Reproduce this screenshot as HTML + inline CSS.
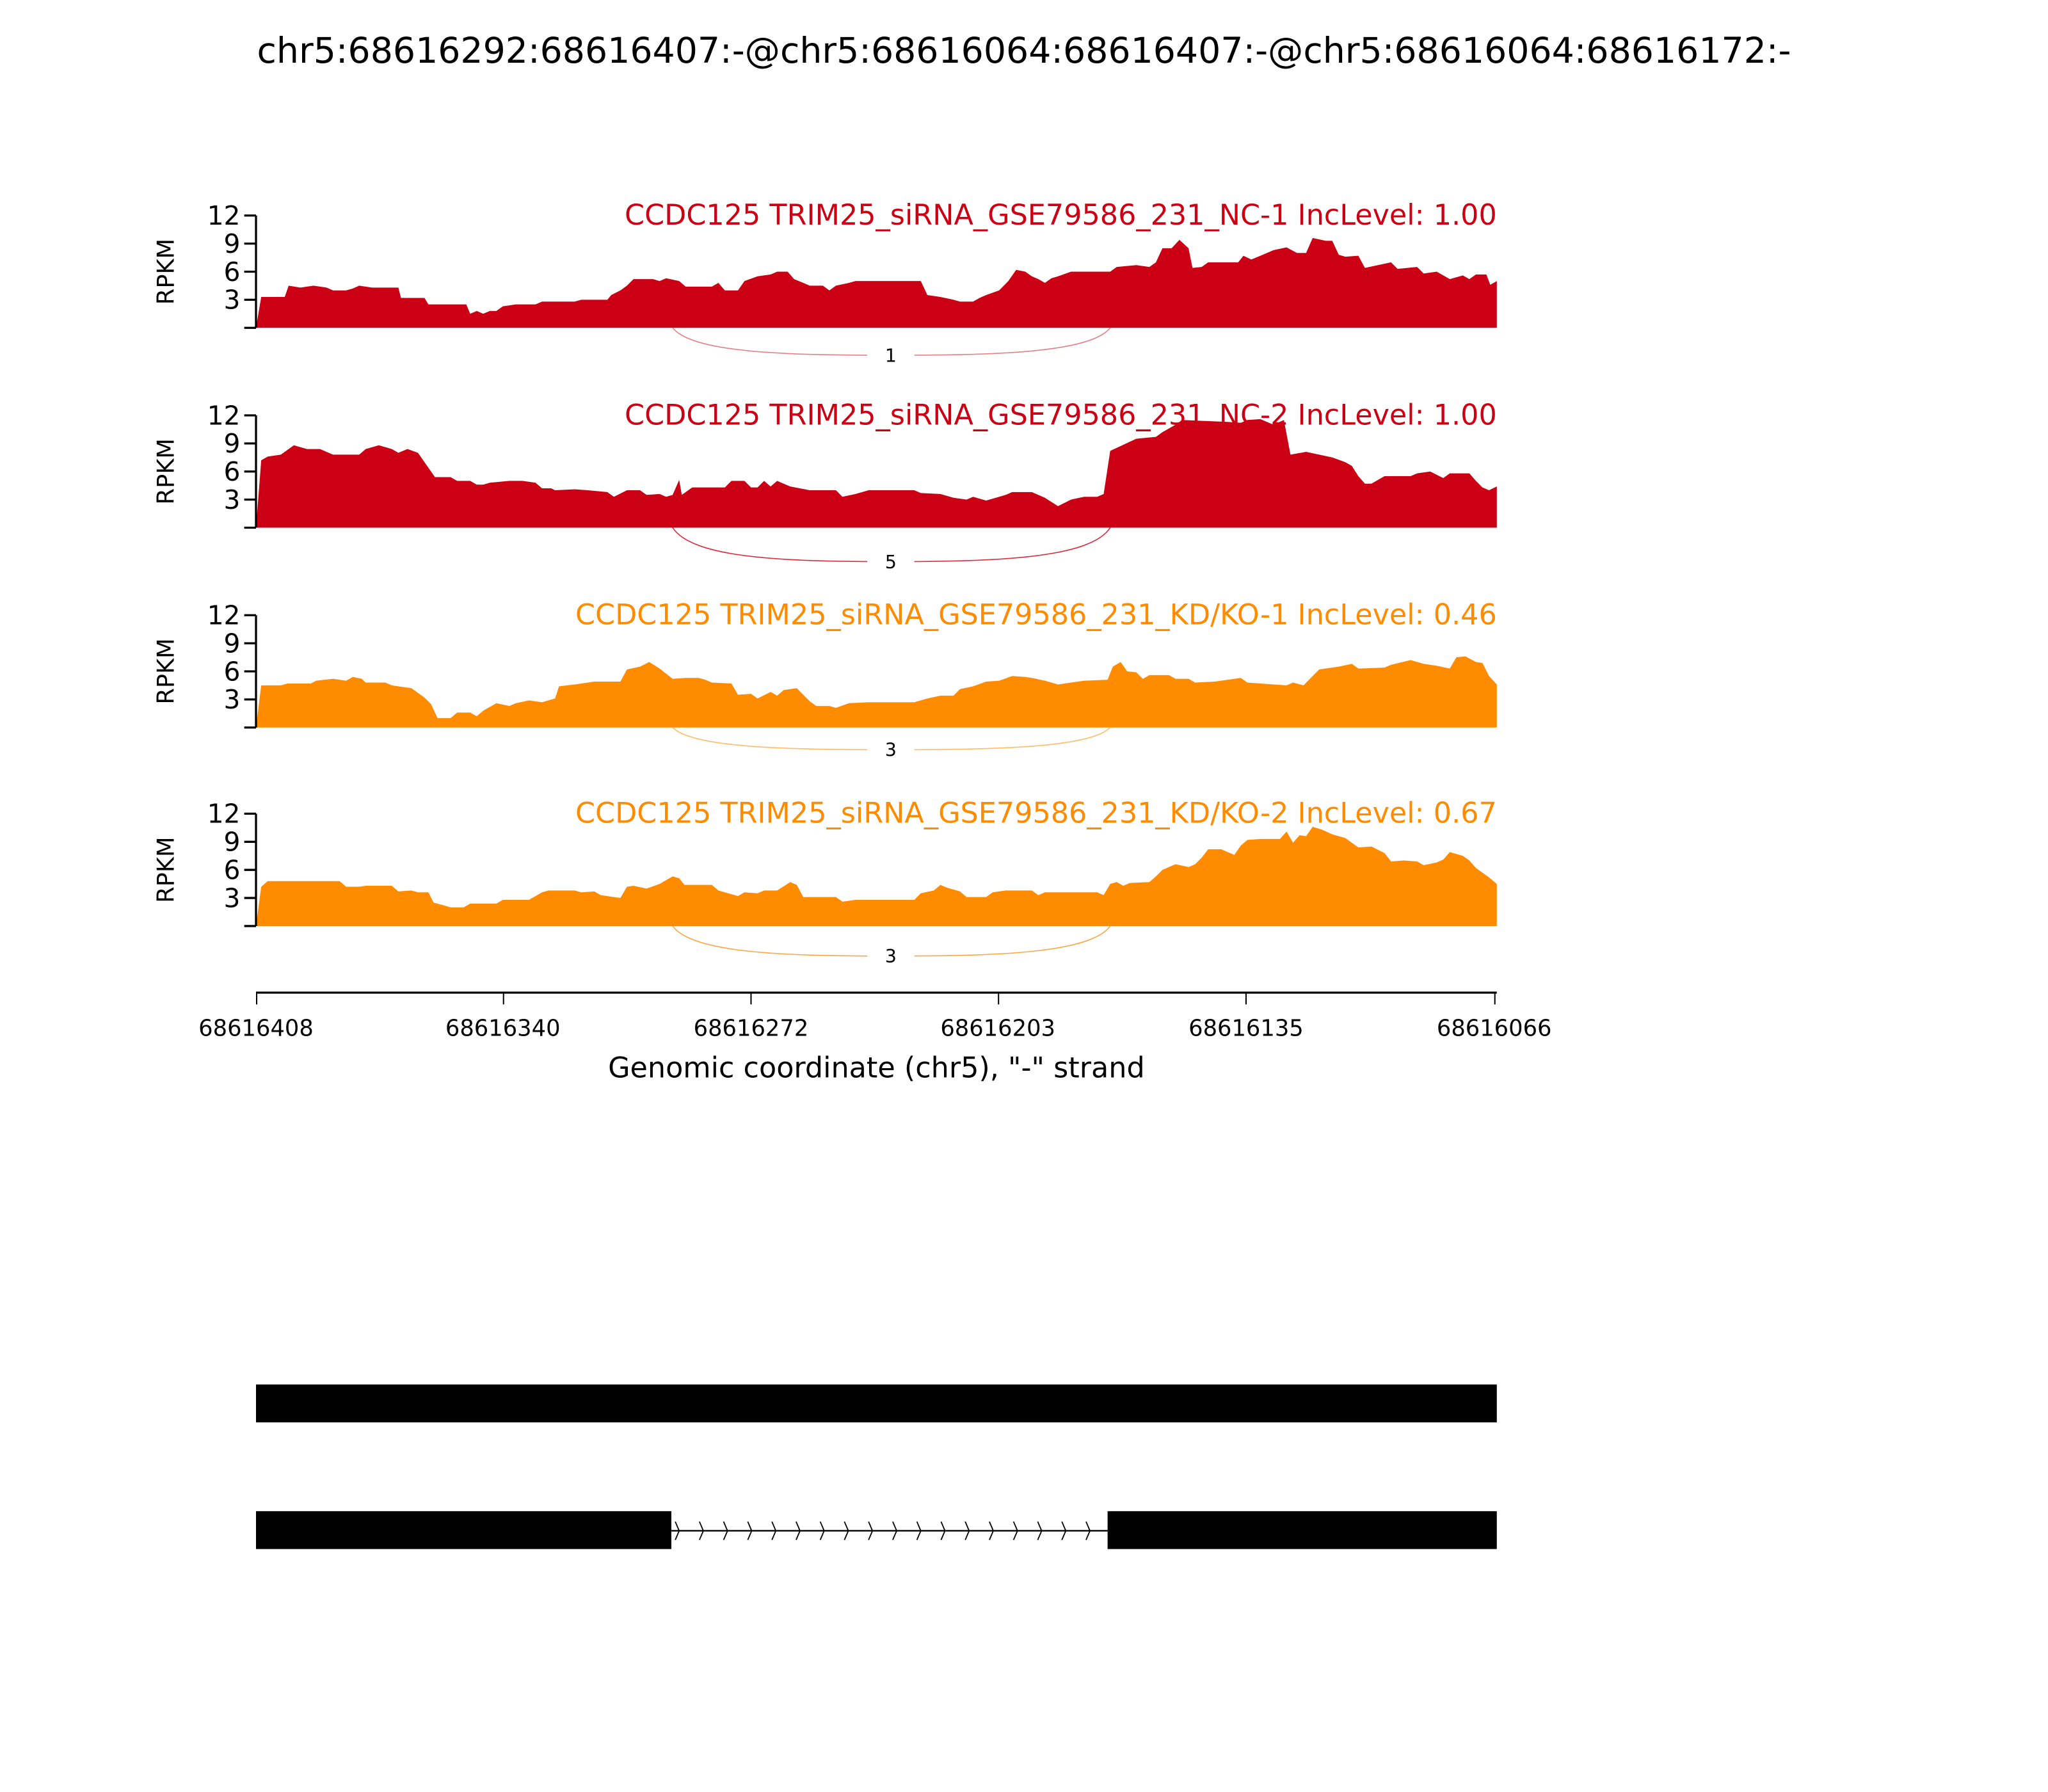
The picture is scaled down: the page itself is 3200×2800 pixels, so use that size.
<!DOCTYPE html>
<html><head><meta charset="utf-8"><style>
html,body{margin:0;padding:0;background:#fff;}
svg{display:block;}
text{font-family:"DejaVu Sans","Liberation Sans",sans-serif;}
</style></head><body>
<svg id="s" width="3200" height="2800" viewBox="0 0 1568 1372" xmlns="http://www.w3.org/2000/svg">
<rect width="1568" height="1372" fill="#fff"/>
<text x="784" y="48" font-size="27.1" text-anchor="middle">chr5:68616292:68616407:-@chr5:68616064:68616407:-@chr5:68616064:68616172:-</text>
<g id="panels"></g>
<line x1="196" y1="760" x2="1146" y2="760" stroke="#000" stroke-width="1.6"/>
<g stroke="#000" stroke-width="1">
<line x1="196.5" y1="760" x2="196.5" y2="769"/>
<line x1="385.5" y1="760" x2="385.5" y2="769"/>
<line x1="575" y1="760" x2="575" y2="769"/>
<line x1="764.5" y1="760" x2="764.5" y2="769"/>
<line x1="954" y1="760" x2="954" y2="769"/>
<line x1="1144.5" y1="760" x2="1144.5" y2="769"/>
</g>
<g font-size="17.3" text-anchor="middle">
<text x="196" y="793">68616408</text>
<text x="385" y="793">68616340</text>
<text x="575" y="793">68616272</text>
<text x="764" y="793">68616203</text>
<text x="954" y="793">68616135</text>
<text x="1144" y="793">68616066</text>
</g>
<text x="671" y="825" font-size="21.8" text-anchor="middle">Genomic coordinate (chr5), "-" strand</text>
<rect x="196" y="1060" width="950" height="29" fill="#000"/>
<rect x="196" y="1157" width="318" height="29" fill="#000"/>
<rect x="848" y="1157" width="298" height="29" fill="#000"/>
<line x1="514" y1="1172" x2="848" y2="1172" stroke="#000" stroke-width="1.2"/>
<g id="chev" fill="none" stroke="#000" stroke-width="0.9"></g>
</svg>
<script>
var ns="http://www.w3.org/2000/svg";
var P=document.getElementById('panels');
function el(t,a,p){var e=document.createElementNS(ns,t);for(var k in a)e.setAttribute(k,a[k]);(p||P).appendChild(e);return e;}
var data=[
[200,3.3,218,3.3,221,4.5,230,4.3,240,4.5,250,4.3,255,4,265,4,270,4.2,275,4.5,285,4.3,305,4.3,307,3.2,325,3.2,328,2.5,357,2.5,360,1.5,365,1.8,370,1.5,375,1.8,380,1.8,385,2.3,395,2.5,410,2.5,415,2.8,440,2.8,445,3,465,3,468,3.5,475,4,480,4.5,485,5.2,500,5.2,505,5,510,5.3,520,5,525,4.4,545,4.4,550,4.8,555,4,565,4,570,5,580,5.5,590,5.7,595,6,603,6,608,5.2,615,4.8,620,4.5,630,4.5,635,4,640,4.5,650,4.8,655,5,705,5,710,3.5,720,3.3,730,3,735,2.8,745,2.8,750,3.2,755,3.5,765,4,772,5,778,6.2,785,6,790,5.5,795,5.2,800,4.8,805,5.3,810,5.5,820,6,850,6,855,6.5,870,6.7,880,6.5,885,7,890,8.5,897,8.5,903,9.4,910,8.5,913,6.4,920,6.5,925,7,948,7,952,7.7,958,7.3,965,7.7,975,8.3,985,8.6,993,8,1000,8,1005,9.6,1015,9.3,1020,9.3,1025,7.8,1030,7.6,1040,7.7,1045,6.4,1055,6.7,1065,7,1070,6.3,1085,6.5,1090,5.8,1100,6,1110,5.2,1120,5.6,1125,5.2,1130,5.7,1138,5.7,1141,4.6,1146,5],
[200,7.2,205,7.6,215,7.8,225,8.8,235,8.4,245,8.4,255,7.8,275,7.8,280,8.4,290,8.8,300,8.4,305,8,312,8.4,320,8,325,7,333,5.4,345,5.4,350,5,360,5,365,4.6,370,4.6,375,4.8,390,5,400,5,410,4.8,415,4.2,422,4.2,425,4,440,4.1,450,4,465,3.8,470,3.3,480,4,490,4,495,3.5,505,3.6,510,3.3,515,3.5,520,5.1,522,3.5,530,4.3,555,4.3,560,5,570,5,575,4.3,580,4.3,585,5,590,4.4,595,5,605,4.4,620,4,640,4,645,3.3,655,3.6,665,4,700,4,705,3.7,720,3.6,730,3.2,740,3,745,3.3,755,2.9,765,3.3,770,3.5,775,3.8,790,3.8,800,3.2,810,2.3,820,3,830,3.3,840,3.3,845,3.6,850,8.2,870,9.5,885,9.7,890,10.2,900,11,905,11.5,940,11.3,950,11.2,955,11.5,965,11.6,975,11,983,11.5,988,7.8,1000,8.1,1010,7.8,1020,7.5,1030,7,1035,6.6,1040,5.5,1045,4.7,1050,4.7,1060,5.5,1080,5.5,1085,5.8,1095,6,1105,5.3,1110,5.8,1125,5.8,1130,5,1135,4.3,1140,4,1146,4.4],
[200,4.5,215,4.5,220,4.7,238,4.7,242,5,255,5.2,265,5,270,5.4,277,5.2,280,4.8,295,4.8,300,4.5,315,4.2,325,3.2,330,2.5,335,1,345,1,350,1.6,360,1.6,365,1.2,370,1.8,380,2.6,390,2.3,395,2.6,405,2.9,415,2.7,425,3.1,428,4.4,440,4.6,455,4.9,475,4.9,480,6.2,490,6.5,497,7,505,6.3,515,5.2,525,5.3,535,5.3,540,5.1,545,4.8,560,4.7,565,3.5,575,3.6,580,3.1,590,3.8,595,3.4,600,4,610,4.2,615,3.5,620,2.8,625,2.3,635,2.3,640,2.1,650,2.6,665,2.7,700,2.7,710,3.1,720,3.4,730,3.4,735,4.1,745,4.4,755,4.9,765,5,775,5.5,785,5.4,790,5.3,800,5,810,4.6,820,4.8,830,5,848,5.1,852,6.5,858,7,863,6,870,5.9,875,5.2,880,5.6,895,5.6,900,5.2,910,5.2,915,4.8,930,4.9,950,5.3,955,4.8,985,4.5,990,4.8,998,4.5,1005,5.5,1010,6.2,1025,6.5,1035,6.8,1040,6.3,1060,6.4,1065,6.7,1080,7.2,1090,6.8,1100,6.6,1110,6.3,1115,7.5,1122,7.6,1130,7,1135,6.9,1140,5.5,1146,4.6],
[200,4.2,205,4.8,260,4.8,265,4.2,275,4.2,280,4.3,300,4.3,305,3.7,315,3.8,320,3.6,328,3.6,332,2.5,340,2.2,345,2,355,2,360,2.4,380,2.4,385,2.8,405,2.8,415,3.6,420,3.8,440,3.8,445,3.6,455,3.7,460,3.3,470,3.1,475,3,480,4.2,485,4.3,495,4,505,4.5,515,5.3,520,5.1,524,4.4,545,4.4,550,3.8,565,3.2,570,3.6,580,3.5,585,3.8,595,3.8,605,4.7,610,4.4,615,3.1,640,3.1,645,2.6,655,2.8,700,2.8,705,3.5,715,3.8,720,4.4,725,4.1,735,3.7,740,3.1,755,3.1,760,3.6,770,3.8,790,3.8,795,3.3,800,3.6,840,3.6,845,3.3,850,4.5,855,4.7,860,4.3,865,4.6,880,4.7,885,5.3,890,6,900,6.6,910,6.3,915,6.6,920,7.3,925,8.2,935,8.2,945,7.6,950,8.6,955,9.2,965,9.3,980,9.3,985,10.1,990,8.9,995,9.7,1000,9.6,1005,10.6,1012,10.3,1020,9.8,1030,9.4,1040,8.4,1050,8.5,1060,7.8,1065,6.9,1075,7,1085,6.9,1090,6.5,1100,6.8,1105,7.1,1110,7.9,1120,7.5,1125,7,1130,6.2,1140,5.2,1146,4.5]
];
var tops=[165,318,471,623];
var cols=["#cc0014","#cc0014","#ff8c00","#ff8c00"];
var arcc=["#e8808a","#d83040","#ffbb66","#ffa640"];
var depth=[21,26,17,23];
var labs=["1","5","3","3"];
var titles=["CCDC125 TRIM25_siRNA_GSE79586_231_NC-1 IncLevel: 1.00","CCDC125 TRIM25_siRNA_GSE79586_231_NC-2 IncLevel: 1.00","CCDC125 TRIM25_siRNA_GSE79586_231_KD/KO-1 IncLevel: 0.46","CCDC125 TRIM25_siRNA_GSE79586_231_KD/KO-2 IncLevel: 0.67"];
for(var i=0;i<4;i++){
 var t=tops[i],b=t+86,u=86/12,d=data[i];
 var s="M196,"+b+" L"+d[0]+","+(b-d[1]*u);
 for(var j=2;j<d.length;j+=2)s+=" L"+d[j]+","+(b-d[j+1]*u).toFixed(2);
 s+=" L1146,"+b+" Z";
 el('path',{d:s,fill:cols[i]});
 var dp=depth[i];
 el('path',{d:"M515,"+b+" C530,"+(b+dp*0.9)+" 600,"+(b+dp)+" 682,"+(b+dp)+" C764,"+(b+dp)+" 835,"+(b+dp*0.9)+" 850,"+b,fill:"none",stroke:arcc[i],"stroke-width":0.8});
 el('rect',{x:664,y:b+dp-15,width:36,height:28,fill:"#fff"});
 var tx=el('text',{x:682,y:b+dp+5,"font-size":"14","text-anchor":"middle"});tx.textContent=labs[i];
 el('line',{x1:196,y1:t,x2:196,y2:b,stroke:"#000","stroke-width":1.6});
 for(var k=0;k<5;k++){var yy=t+k*86/4;el('line',{x1:187,y1:yy,x2:196,y2:yy,stroke:"#000","stroke-width":1.6});}
 var v=["12","9","6","3"];
 for(var k=0;k<4;k++){var tt=el('text',{x:184,y:t+k*21.5+7,"font-size":"20","text-anchor":"end"});tt.textContent=v[k];}
 var r=el('text',{x:0,y:0,"font-size":"18","text-anchor":"middle",transform:"translate(133,"+(t+43)+") rotate(-90)"});r.textContent="RPKM";
 var ti=el('text',{x:1146,y:t+7,"font-size":"21.8","text-anchor":"end",fill:cols[i]});ti.textContent=titles[i];
}
var C=document.getElementById('chev');
for(var x=517;x<846;x+=18.5){el('path',{d:"M"+x+",1165 L"+(x+3)+",1172 L"+x+",1179"},C);}
</script>
</body></html>
